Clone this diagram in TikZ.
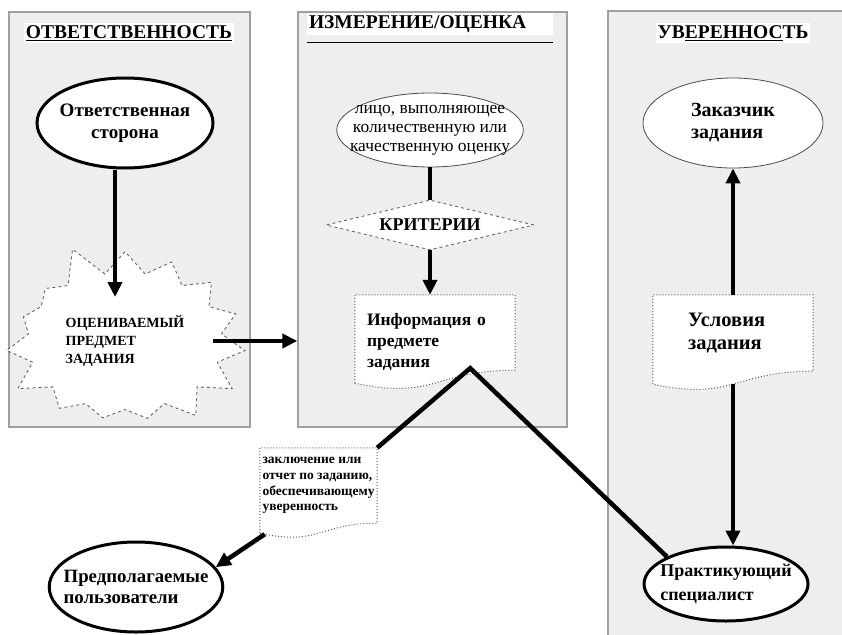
\documentclass[tikz,border=0pt]{standalone}
\usepackage{fontspec}
\setmainfont{Liberation Serif}[BoldFont={Liberation Serif Bold}]
\usetikzlibrary{shapes.geometric,shapes.symbols,arrows.meta,calc}

% document shape: dotted outline with a wavy bottom under a named node
\newcommand{\docwave}[3]{%
  \fill[white] (#1.south east) .. controls ($(#1.south east)+(-#2,0)$) and ($(#1.south east)+(-#2,2.3*#3)$) .. ($(#1.south west)+(0,#3)$) -- (#1.south west) -- cycle;
  \draw[docline] ($(#1.south west)+(0,#3)$) -- (#1.north west) -- (#1.north east) -- (#1.south east) .. controls ($(#1.south east)+(-#2,0)$) and ($(#1.south east)+(-#2,2.3*#3)$) .. ($(#1.south west)+(0,#3)$);
}

\begin{document}
\begin{tikzpicture}[x=1pt,y=-1pt,
    panel/.style={rectangle,draw=gray!75,fill=gray!13,line width=1.3pt,inner sep=0pt},
    heading/.style={fill=white,inner sep=2pt,font=\bfseries\fontsize{19.5}{22}\selectfont},
    oval/.style={ellipse,draw,fill=white,inner sep=0pt,align=center},
    thickoval/.style={oval,line width=3pt},
    thinoval/.style={oval,draw=gray!60!black,line width=0.8pt},
    dashedge/.style={draw=gray!80!black,dashed,line width=0.9pt,fill=white},
    docbox/.style={rectangle,fill=white,inner sep=0pt,align=left},
    docline/.style={draw=gray!70!black,dotted,line width=1pt},
    bigline/.style={line width=4.5pt},
    bigarrow/.style={line width=4.5pt,-{Triangle[length=15pt,width=14pt]}},
  ]
\useasboundingbox (0,0) rectangle (842,634);

% three columns
\node[panel,minimum width=241pt,minimum height=415pt] (respbox) at (129.5,219.5) {};
\node[panel,minimum width=269pt,minimum height=415pt] (measbox) at (432.5,219.5) {};
\node[panel,minimum width=244pt,minimum height=632pt] (assurbox) at (730,327) {};

\node[heading] (resptitle) at (129,33) {\underline{ОТВЕТСТВЕННОСТЬ}};
\node[heading,text width=242pt,align=left] (meastitle) at (430,24) {ИЗМЕРЕНИЕ/ОЦЕНКА};
\draw[line width=1.5pt] ($(meastitle.south west)+(0,8)$) -- ($(meastitle.south east)+(0,8)$);
\node[heading] (assurtitle) at (733,33) {УВ\underline{ЕРЕННОС}ТЬ};

% left column
\node[thickoval,inner xsep=-5pt,minimum width=176pt,minimum height=90pt,font=\bfseries\fontsize{19}{22}\selectfont] (party) at (125,123) {Ответственная\\сторона};
\node[starburst,dashedge,starburst points=15,starburst point height=34pt,random starburst=5,
  minimum width=262pt,minimum height=205pt,inner sep=0pt,align=left,
  font=\bfseries\fontsize{14}{18}\selectfont] (subject) at (125,341) {ОЦЕНИВАЕМЫЙ\\ПРЕДМЕТ\\ЗАДАНИЯ};

% middle column
\node[thinoval,inner xsep=-14pt,inner ysep=-2pt,minimum width=177pt,minimum height=74pt,font=\fontsize{17.4}{19}\selectfont] (assessor) at (430,130) {лицо, выполняющее\\количественную или\\качественную оценку};
\node[diamond,dashedge,aspect=4,minimum width=208pt,minimum height=50pt,inner sep=0pt,
  font=\bfseries\fontsize{18}{20}\selectfont] (criteria) at (430,225) {КРИТЕРИИ};
\node[docbox,minimum width=160pt,minimum height=75pt,text width=136pt,text height=30pt,text depth=45pt,
  font=\bfseries\fontsize{17.5}{21}\selectfont] (info) at (435,332.5) {Информация о\\предмете\\задания};
\docwave{info}{80}{13}

% right column
\node[thinoval,align=left,minimum width=180pt,minimum height=90pt,font=\bfseries\fontsize{20}{22}\selectfont] (client) at (733,123) {Заказчик\\задания};
\node[docbox,minimum width=160pt,minimum height=76pt,text width=90pt,font=\bfseries\fontsize{20.5}{23}\selectfont] (conditions) at (733,333) {Условия\\задания};
\docwave{conditions}{80}{13}
\node[thickoval,align=left,inner xsep=-9pt,minimum width=164pt,minimum height=74pt,font=\bfseries\fontsize{18}{24}\selectfont] (practitioner) at (726,584) {Практикующий\\специалист};

% below the columns
\node[docbox,minimum width=117pt,minimum height=75pt,font=\bfseries\fontsize{13.5}{15.7}\selectfont] (report) at (318.5,485.5) {заключение или\\отчет по заданию,\\обеспечивающему\\уверенность};
\docwave{report}{58}{10}
\node[thickoval,align=left,inner xsep=-11pt,minimum width=172pt,minimum height=90pt,font=\bfseries\fontsize{18.8}{21}\selectfont] (users) at (136,587) {Предполагаемые\\пользователи};

% connectors
\draw[bigarrow] ([xshift=-10pt]party.south) -- ([xshift=-10pt,yshift=44pt]subject.center);
\draw[bigarrow] ([xshift=88pt]subject.center) -- (measbox.west |- subject.center);
\draw[bigline] (assessor.south) -- (criteria.north);
\draw[bigarrow] (criteria.south) -- (criteria.south |- info.north);
\coordinate (apex) at ($(info.south east)+(-45,-2)$);
\draw[bigline,line join=miter] (report.north east) -- (apex) -- (practitioner.north west);
\draw[bigarrow] ($(report.south west)+(5,11)$) -- (users.14);
\draw[bigarrow] (conditions.north) -- (client.south);
\draw[bigarrow] ($(conditions.south)+(0,13)$) -- (conditions.south |- practitioner.north);
\end{tikzpicture}
\end{document}
